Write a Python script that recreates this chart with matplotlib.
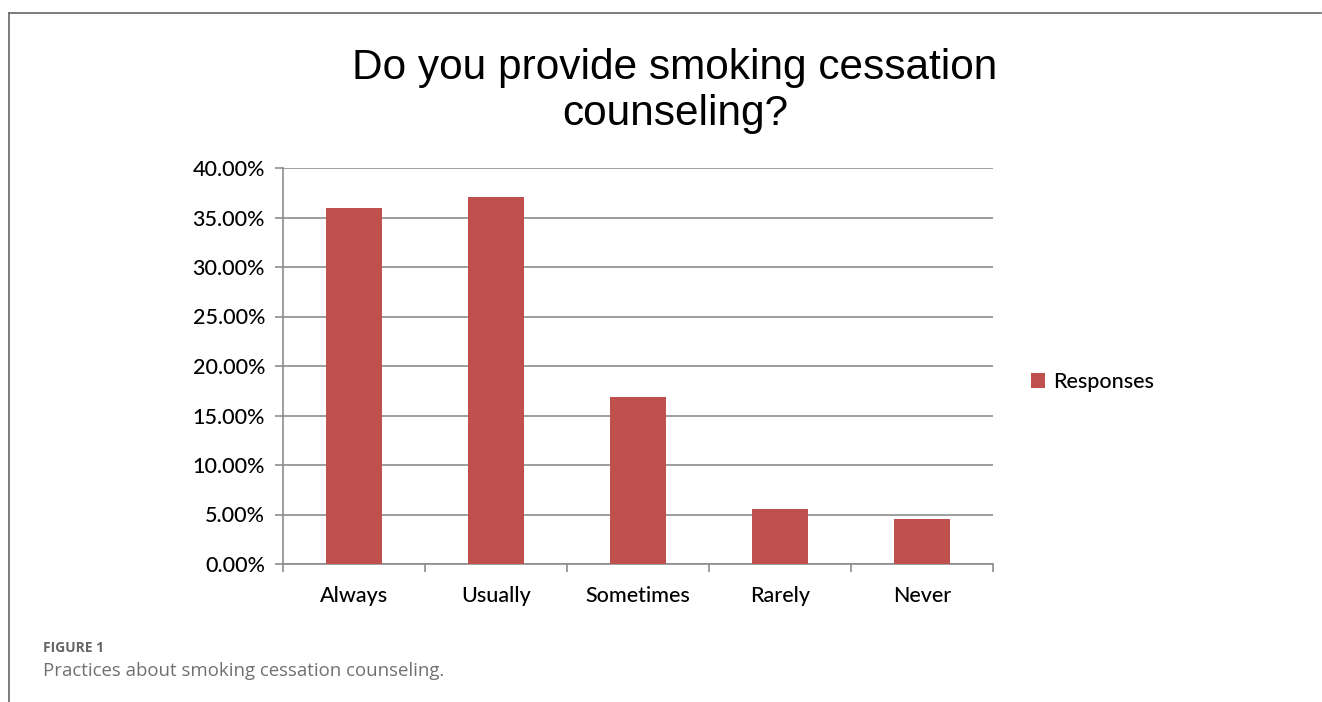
import matplotlib
matplotlib.use("Agg")
import matplotlib.pyplot as plt
from matplotlib.lines import Line2D
from matplotlib.patches import Patch

categories = ["Always", "Usually", "Sometimes", "Rarely", "Never"]
responses = [36.0, 37.1, 16.9, 5.6, 4.5]
yticks = [0, 5, 10, 15, 20, 25, 30, 35, 40]
ytick_labels = ["%.2f%%" % v for v in yticks]
title = "Do you provide smoking cessation\ncounseling?"
series_name = "Responses"
fig_label = "FIGURE 1"
caption = "Practices about smoking cessation counseling."

W, H = 1322, 702
fig = plt.figure(figsize=(W / 100, H / 100), dpi=100)
bar_color = "#C0504D"
grid_color = "#8c8c8c"
lab_font = ["Lato", "DejaVu Sans"]

# axes: left 283, right 993, top 168, bottom 564
ax = fig.add_axes([283 / W, 1 - 564 / H, (993 - 283) / W, (564 - 168) / H])
x = list(range(len(categories)))
ax.bar(x, responses, width=0.4, color=bar_color, zorder=3)
ax.set_xlim(-0.5, len(categories) - 0.5)
ax.set_ylim(0, 40)
ax.set_yticks(yticks)
ax.set_yticklabels(ytick_labels, fontsize=15.5, family=lab_font, weight="medium")
ax.yaxis.grid(True, color=grid_color, linewidth=1.2, zorder=0)
ax.set_xticks([i - 0.5 for i in range(len(categories) + 1)])
ax.set_xticklabels([])
ax.set_xticks(x, minor=True)
ax.set_xticklabels(categories, minor=True, fontsize=15.5, family=lab_font, weight="medium")
ax.tick_params(axis="x", which="minor", length=0, pad=16)
ax.tick_params(axis="x", which="major", length=6, color=grid_color, width=1.2)
ax.tick_params(axis="y", length=6, color=grid_color, width=1.2, pad=7)
for s in ["top", "right"]:
    ax.spines[s].set_visible(False)
for s in ["left", "bottom"]:
    ax.spines[s].set_color(grid_color)
    ax.spines[s].set_linewidth(1.2)

fig.text(675 / W, 1 - 91 / H, title, ha="center", va="center", fontsize=30.5,
         family=["Liberation Sans", "DejaVu Sans"], linespacing=1.18)

leg_handles = [Patch(facecolor=bar_color, edgecolor="none")]
fig.legend(leg_handles, [series_name], loc="center left",
           bbox_to_anchor=(1012 / W, 1 - 382 / H), frameon=False,
           prop={"family": lab_font, "size": 15.5, "weight": "medium"},
           handlelength=0.65, handleheight=0.65, handletextpad=0.35)

# outer frame (top and left lines)
fig.add_artist(Line2D([9 / W, 1321 / W], [1 - 13 / H, 1 - 13 / H],
                      transform=fig.transFigure, color="#666666", linewidth=1.2))
fig.add_artist(Line2D([9 / W, 9 / W], [1 - 13 / H, 0],
                      transform=fig.transFigure, color="#666666", linewidth=1.2))

fig.text(43 / W, 1 - 648 / H, fig_label, ha="left", va="center", fontsize=10,
         color="#666666", weight="bold", family=["Open Sans", "DejaVu Sans"])
fig.text(43 / W, 1 - 671 / H, caption, ha="left", va="center", fontsize=13.4,
         color="#707070", family=["Open Sans", "DejaVu Sans"])

fig.savefig("out.png", dpi=100)
